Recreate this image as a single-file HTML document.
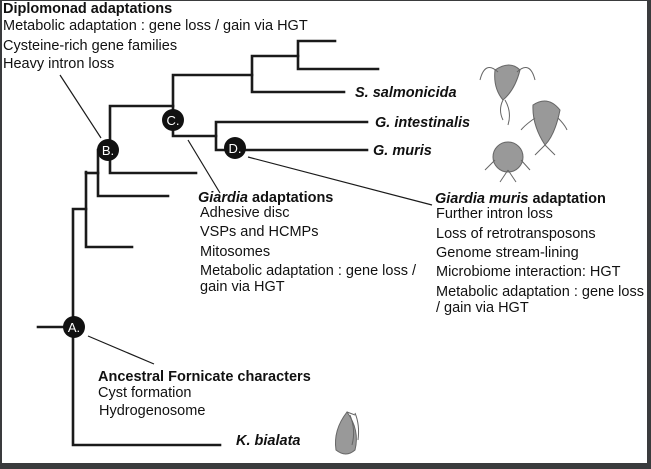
<!DOCTYPE html>
<html><head><meta charset="utf-8"><style>
body{margin:0;padding:0;background:#3a3b3d;}
#c{position:absolute;left:2px;top:1px;width:645px;height:462px;background:#fff;overflow:hidden;}
svg{position:absolute;left:0;top:0;}
.t{position:absolute;font-family:"Liberation Sans",sans-serif;font-size:14.5px;color:#111;white-space:nowrap;letter-spacing:0px;line-height:16px;}
.b{font-weight:bold;}
.i{font-style:italic;font-weight:bold;}
</style></head><body>
<div id="c">
<svg width="651" height="469" viewBox="2 1 651 469">
<g stroke="#1a1a1a" stroke-width="2.6" fill="none" stroke-linecap="square">
<path d="M335 41H298V69H378"/>
<path d="M298 56H252V92H344"/>
<path d="M252 75H173V136H216"/>
<path d="M367 122H216V150H367"/>
<path d="M173 106H110V173H196"/>
<path d="M110 150H98V196H168"/>
<path d="M98 173H86"/>
<path d="M86 172V247H132"/>
<path d="M86 209H73V445H220"/>
<path d="M38 327H73"/>
</g>
<g stroke="#1a1a1a" stroke-width="1.2">
<line x1="60" y1="75" x2="101" y2="138"/>
<line x1="188" y1="140" x2="220" y2="193"/>
<line x1="248" y1="157" x2="432" y2="205"/>
<line x1="88" y1="336" x2="154" y2="364"/>
</g>
<g fill="#111">
<circle cx="108" cy="150" r="11"/>
<circle cx="173" cy="120" r="11"/>
<circle cx="235" cy="148" r="11"/>
<circle cx="74" cy="327" r="11"/>
</g>
<g fill="#fff" font-family="Liberation Sans,sans-serif" font-size="13" text-anchor="middle">
<text x="108" y="155">B.</text><text x="173" y="125">C.</text><text x="235" y="153">D.</text><text x="74" y="332">A.</text>
</g>
<g fill="#999" stroke="#666" stroke-width="1">
<path d="M495 70 Q510 60 520 70 Q515 90 503 100 Q493 88 495 70Z"/>
<path d="M533 105 Q548 95 560 110 Q555 135 545 145 Q532 125 533 105Z"/>
<circle cx="508" cy="157" r="15"/>
<path d="M336 450 Q333 430 347 412 Q360 430 355 450 Q346 458 336 450Z"/>
</g>
<g stroke="#666" stroke-width="1" fill="none">
<path d="M498 72 Q485 60 480 80 M517 72 Q530 60 535 80 M503 100 Q498 110 503 120 M505 100 Q512 112 508 125"/>
<path d="M535 118 Q525 125 521 130 M558 118 Q565 125 567 130 M545 145 L535 155 M545 145 L555 155"/>
<path d="M495 160 L485 170 M521 160 L530 170 M508 170 L500 182 M508 170 L516 182"/>
<path d="M347 412 L355 415 M350 415 Q356 430 352 445 M355 413 Q360 425 358 440"/>
</g>
</svg>
<div class="t b" style="left:1px;top:0px;">Diplomonad adaptations</div>
<div class="t" style="left:1px;top:17px;">Metabolic adaptation : gene loss / gain via HGT</div>
<div class="t" style="left:1px;top:37px;">Cysteine-rich gene families</div>
<div class="t" style="left:1px;top:55px;">Heavy intron loss</div>
<div class="t i" style="left:353px;top:84px;">S. salmonicida</div>
<div class="t i" style="left:373px;top:114px;">G. intestinalis</div>
<div class="t i" style="left:371px;top:142px;">G. muris</div>
<div class="t" style="left:196px;top:189px;"><span class="i">Giardia</span> <b>adaptations</b></div>
<div class="t" style="left:198px;top:204px;">Adhesive disc</div>
<div class="t" style="left:198px;top:223px;">VSPs and HCMPs</div>
<div class="t" style="left:198px;top:243px;">Mitosomes</div>
<div class="t" style="left:198px;top:262px;">Metabolic adaptation : gene loss /</div>
<div class="t" style="left:198px;top:278px;">gain via HGT</div>
<div class="t" style="left:433px;top:190px;"><span class="i">Giardia muris</span> <b>adaptation</b></div>
<div class="t" style="left:434px;top:205px;">Further intron loss</div>
<div class="t" style="left:434px;top:225px;">Loss of retrotransposons</div>
<div class="t" style="left:434px;top:244px;">Genome stream-lining</div>
<div class="t" style="left:434px;top:263px;">Microbiome interaction: HGT</div>
<div class="t" style="left:434px;top:283px;">Metabolic adaptation : gene loss</div>
<div class="t" style="left:434px;top:299px;">/ gain via HGT</div>
<div class="t b" style="left:96px;top:368px;">Ancestral Fornicate characters</div>
<div class="t" style="left:96px;top:384px;">Cyst formation</div>
<div class="t" style="left:97px;top:402px;">Hydrogenosome</div>
<div class="t i" style="left:234px;top:432px;">K. bialata</div>
</div>
</body></html>
